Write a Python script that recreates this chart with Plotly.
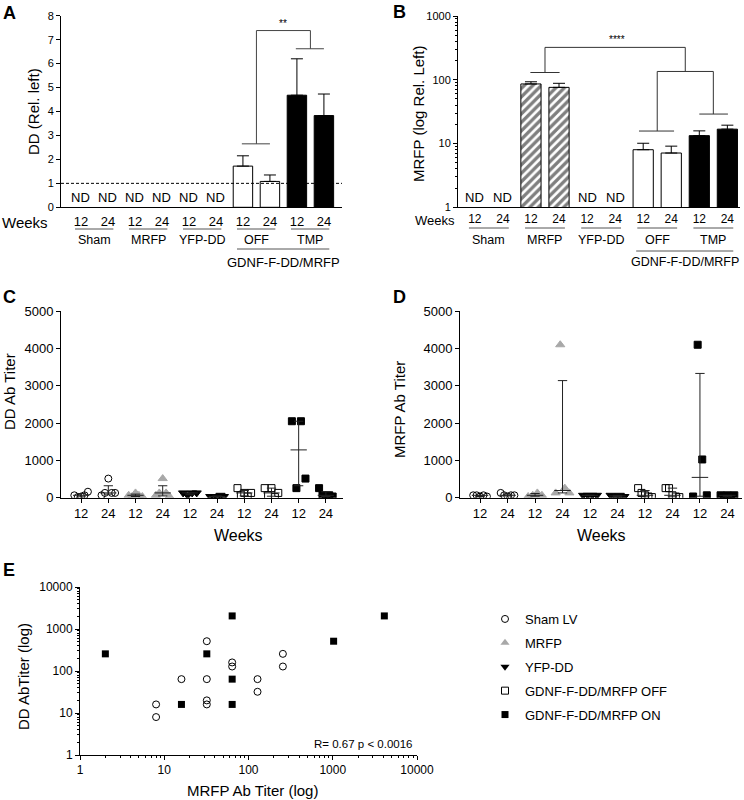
import plotly.graph_objects as go
import numpy as np

W, H = 744, 800
FONT = "Liberation Sans, Arial, Helvetica, sans-serif"


def px(x):
    return x / W


def py(y):
    return 1 - y / H


# ---------------- data ----------------
weeks = ["12", "24"] * 5
group_names = ["Sham", "MRFP", "YFP-DD", "OFF", "TMP"]
positions = list(range(10))

# Panel A: DD (Rel. left), mean and SEM (ND = not detected)
dd_rel_mean = [None, None, None, None, None, None, 1.72, 1.08, 4.68, 3.83]
dd_rel_sem = [None, None, None, None, None, None, 0.43, 0.27, 1.52, 0.90]
dd_rel_nd = [True, True, True, True, True, True, False, False, False, False]

# Panel B: MRFP (log Rel. Left), mean and SEM
mrfp_rel_mean = [None, None, 86, 76, None, None, 8.0, 7.1, 13.3, 16.8]
mrfp_rel_sem = [None, None, 7, 12, None, None, 2.1, 2.0, 2.5, 2.6]
mrfp_rel_nd = [True, True, False, False, True, True, False, False, False, False]

# significance bracket heights
sigA_off, sigA_tmp, sigA_top = 2.65, 6.62, 7.38
sigB_mrfp, sigB_top, sigB_mid, sigB_off, sigB_tmp = 130, 322, 135, 15.7, 29

# Panel C: DD Ab titer per group
dd_sham12 = [64, 16, 32, 64, 160]
dd_sham24 = [64, 128, 512, 128, 128]
dd_mrfp12 = [64, 32, 128, 64, 32]
dd_mrfp24 = [64, 128, 512, 128, 32]
dd_yfp12 = [128, 64, 128, 128]
dd_yfp24 = [32, 32, 16, 64, 32]
dd_off12 = [256, 64, 128, 32, 128]
dd_off24 = [256, 64, 256, 16, 128]
dd_tmp12 = [2048, 256, 2048, 512]
dd_tmp24 = [256, 64, 32, 64, 32]

# Panel D: MRFP Ab titer per group
mr_sham12 = [64, 64, 32, 64, 32]
mr_sham24 = [128, 64, 32, 64, 64]
mr_mrfp12 = [32, 64, 128, 64]
mr_mrfp24 = [128, 4096, 256, 128]
mr_yfp12 = [64, 64, 64, 64]
mr_yfp24 = [64, 32, 64, 32]
mr_off12 = [256, 128, 64, 32, 16]
mr_off24 = [256, 256, 64, 32, 16]
mr_tmp12 = [32, 4096, 1024, 64]
mr_tmp24 = [64, 32, 64, 16, 64]

# Panel E: correlation (MRFP titer vs DD titer)
e_sham_mrfp = [8, 8, 16, 32, 32, 32, 32, 64, 64, 128, 128, 256, 256]
e_sham_dd = [16, 8, 64, 512, 64, 20, 16, 160, 128, 64, 32, 256, 128]
e_on_mrfp = [2, 16, 32, 64, 64, 64, 1024, 4096]
e_on_dd = [256, 16, 256, 2048, 64, 16, 512, 2048]

dd_groups = [dd_sham12, dd_sham24, dd_mrfp12, dd_mrfp24, dd_yfp12, dd_yfp24,
             dd_off12, dd_off24, dd_tmp12, dd_tmp24]
mr_groups = [mr_sham12, mr_sham24, mr_mrfp12, mr_mrfp24, mr_yfp12, mr_yfp24,
             mr_off12, mr_off24, mr_tmp12, mr_tmp24]

GRAY = "#a8a8a8"
styles = [
    dict(symbol="circle-open", color="black", size=7),
    dict(symbol="circle-open", color="black", size=7),
    dict(symbol="triangle-up", color=GRAY, size=8),
    dict(symbol="triangle-up", color=GRAY, size=8),
    dict(symbol="triangle-down", color="black", size=8),
    dict(symbol="triangle-down", color="black", size=8),
    dict(symbol="square-open", color="black", size=7),
    dict(symbol="square-open", color="black", size=7),
    dict(symbol="square", color="black", size=7),
    dict(symbol="square", color="black", size=7),
]


def prism_q(vals, p):
    s = sorted(vals)
    n = len(s)
    pos = (n + 1) * p
    if pos <= 1:
        return s[0]
    if pos >= n:
        return s[-1]
    lo = int(np.floor(pos))
    fr = pos - lo
    return s[lo - 1] + fr * (s[lo] - s[lo - 1])


fig = go.Figure()

# ---------------- Panel A ----------------
fig.add_trace(go.Bar(
    x=positions[6:8], y=dd_rel_mean[6:8], width=0.72,
    marker=dict(color="white", line=dict(color="black", width=1)),
    error_y=dict(type="data", array=dd_rel_sem[6:8], arrayminus=[0, 0], symmetric=False,
                 color="black", thickness=1, width=6),
    xaxis="x", yaxis="y", showlegend=False, hoverinfo="skip"))
fig.add_trace(go.Bar(
    x=positions[8:10], y=dd_rel_mean[8:10], width=0.72,
    marker=dict(color="black", line=dict(color="black", width=1)),
    error_y=dict(type="data", array=dd_rel_sem[8:10], arrayminus=[0, 0], symmetric=False,
                 color="black", thickness=1, width=6),
    xaxis="x", yaxis="y", showlegend=False, hoverinfo="skip"))
bx = [5.96, 7.0, None, 6.5, 6.5, 8.5, 8.5, None, 7.96, 9.0]
by = [sigA_off, sigA_off, None, sigA_off, sigA_top, sigA_top, sigA_tmp, None, sigA_tmp, sigA_tmp]
fig.add_trace(go.Scatter(x=bx, y=by, mode="lines", line=dict(color="#444", width=1),
                         xaxis="x", yaxis="y", showlegend=False, hoverinfo="skip"))

# ---------------- Panel B ----------------
fig.add_trace(go.Bar(
    x=positions[2:4], y=mrfp_rel_mean[2:4], width=0.72,
    marker=dict(color="white", line=dict(color="black", width=1),
                pattern=dict(shape="/", fgcolor="black", bgcolor="white", size=6, solidity=0.55)),
    error_y=dict(type="data", array=mrfp_rel_sem[2:4], arrayminus=[0, 0], symmetric=False,
                 color="black", thickness=1, width=6),
    xaxis="x2", yaxis="y2", showlegend=False, hoverinfo="skip"))
fig.add_trace(go.Bar(
    x=positions[6:8], y=mrfp_rel_mean[6:8], width=0.72,
    marker=dict(color="white", line=dict(color="black", width=1)),
    error_y=dict(type="data", array=mrfp_rel_sem[6:8], arrayminus=[0, 0], symmetric=False,
                 color="black", thickness=1, width=6),
    xaxis="x2", yaxis="y2", showlegend=False, hoverinfo="skip"))
fig.add_trace(go.Bar(
    x=positions[8:10], y=mrfp_rel_mean[8:10], width=0.72,
    marker=dict(color="black", line=dict(color="black", width=1)),
    error_y=dict(type="data", array=mrfp_rel_sem[8:10], arrayminus=[0, 0], symmetric=False,
                 color="black", thickness=1, width=6),
    xaxis="x2", yaxis="y2", showlegend=False, hoverinfo="skip"))
bx2 = [1.98, 3.02, None, 2.5, 2.5, 7.5, 7.5, None, 6.5, 8.5, None,
       6.5, 6.5, None, 5.85, 7.1, None, 8.5, 8.5, None, 8.0, 9.02]
by2 = [sigB_mrfp, sigB_mrfp, None, sigB_mrfp, sigB_top, sigB_top, sigB_mid, None, sigB_mid, sigB_mid, None,
       sigB_mid, sigB_off, None, sigB_off, sigB_off, None, sigB_mid, sigB_tmp, None, sigB_tmp, sigB_tmp]
fig.add_trace(go.Scatter(x=bx2, y=by2, mode="lines", line=dict(color="#333", width=1),
                         xaxis="x2", yaxis="y2", showlegend=False, hoverinfo="skip"))


# ---------------- Panels C and D ----------------
def add_scatter_panel(groups, xa, ya):
    for i, vals in enumerate(groups):
        n = len(vals)
        offs = [(-0.25 + 0.5 * k / (n - 1)) if n > 1 else 0 for k in range(n)]
        st = styles[i]
        fig.add_trace(go.Scatter(
            x=[i + o for o in offs], y=vals, mode="markers",
            marker=dict(symbol=st["symbol"], color=st["color"], size=st["size"],
                        line=dict(color=st["color"], width=1)),
            xaxis=xa, yaxis=ya, showlegend=False, hoverinfo="skip"))
    lx, ly = [], []
    for i, vals in enumerate(groups):
        med = prism_q(vals, 0.5)
        q1 = prism_q(vals, 0.25)
        q3 = prism_q(vals, 0.75)
        lx += [i - 0.3, i + 0.3, None, i, i, None, i - 0.17, i + 0.17, None, i - 0.17, i + 0.17, None]
        ly += [med, med, None, q1, q3, None, q1, q1, None, q3, q3, None]
    fig.add_trace(go.Scatter(x=lx, y=ly, mode="lines", line=dict(color="#222", width=1),
                             xaxis=xa, yaxis=ya, showlegend=False, hoverinfo="skip"))


add_scatter_panel(dd_groups, "x3", "y3")
add_scatter_panel(mr_groups, "x4", "y4")

# ---------------- Panel E ----------------
fig.add_trace(go.Scatter(x=e_sham_mrfp, y=e_sham_dd, mode="markers", name="Sham LV",
                         marker=dict(symbol="circle-open", color="black", size=7, line=dict(width=1)),
                         xaxis="x5", yaxis="y5", legendgroup="a", hoverinfo="skip"))
fig.add_trace(go.Scatter(x=[None], y=[None], mode="markers", name="MRFP",
                         marker=dict(symbol="triangle-up", color=GRAY, size=8),
                         xaxis="x5", yaxis="y5", legendgroup="b", hoverinfo="skip"))
fig.add_trace(go.Scatter(x=[None], y=[None], mode="markers", name="YFP-DD",
                         marker=dict(symbol="triangle-down", color="black", size=8),
                         xaxis="x5", yaxis="y5", legendgroup="c", hoverinfo="skip"))
fig.add_trace(go.Scatter(x=[None], y=[None], mode="markers", name="GDNF-F-DD/MRFP OFF",
                         marker=dict(symbol="square-open", color="black", size=7, line=dict(width=1)),
                         xaxis="x5", yaxis="y5", legendgroup="d", hoverinfo="skip"))
fig.add_trace(go.Scatter(x=e_on_mrfp, y=e_on_dd, mode="markers", name="GDNF-F-DD/MRFP ON",
                         marker=dict(symbol="square", color="black", size=7),
                         xaxis="x5", yaxis="y5", legendgroup="e", hoverinfo="skip"))

# ---------------- axes ----------------
axline = dict(showline=True, linecolor="black", linewidth=1, showgrid=False, zeroline=False,
              automargin=False, tickwidth=1)
cat_x = dict(tickmode="array", tickvals=positions, ticktext=weeks)

layout = dict(
    width=W, height=H, margin=dict(l=0, r=0, t=0, b=0), autosize=False,
    plot_bgcolor="white", paper_bgcolor="white",
    font=dict(family=FONT, color="black", size=12),
    barmode="overlay",
    showlegend=True,
    legend=dict(x=px(485), y=py(604), xanchor="left", yanchor="top",
                font=dict(size=13, family=FONT), tracegroupgap=4,
                bgcolor="rgba(0,0,0,0)", itemclick=False),
    xaxis=dict(domain=[px(61), px(342)], anchor="y", range=[-0.74, 9.67], **cat_x,
               ticks="outside", ticklen=2, tickcolor="rgba(0,0,0,0)",
               tickfont=dict(size=13), **axline),
    yaxis=dict(domain=[py(207.3), py(15.7)], anchor="x", range=[0, 8], dtick=1,
               ticks="outside", ticklen=4, tickcolor="black", tickfont=dict(size=11), **axline),
    xaxis2=dict(domain=[px(458), px(740)], anchor="y2", range=[-0.6, 9.45], **cat_x,
                ticks="", tickfont=dict(size=12), **axline),
    yaxis2=dict(domain=[py(207.3), py(16)], anchor="x2", type="log", range=[0, 3], dtick=1,
                ticks="outside", ticklen=4, tickcolor="black", tickfont=dict(size=11), tickformat="d",
                minor=dict(ticks="outside", ticklen=2, tickcolor="black"), **axline),
    xaxis3=dict(domain=[px(61), px(343)], anchor="y3", range=[-0.74, 9.63], **cat_x,
                ticks="outside", ticklen=4, tickcolor="black", tickfont=dict(size=13), **axline),
    yaxis3=dict(domain=[py(497.7), py(311)], anchor="x3", range=[0, 5000], dtick=1000,
                ticks="outside", ticklen=4, tickcolor="black", tickfont=dict(size=13), tickformat="d", **axline),
    xaxis4=dict(domain=[px(460), px(742)], anchor="y4", range=[-0.73, 9.53], **cat_x,
                ticks="outside", ticklen=4, tickcolor="black", tickfont=dict(size=13), **axline),
    yaxis4=dict(domain=[py(497.7), py(311)], anchor="x4", range=[0, 5000], dtick=1000,
                ticks="outside", ticklen=4, tickcolor="black", tickfont=dict(size=13), tickformat="d", **axline),
    xaxis5=dict(domain=[px(80), px(417)], anchor="y5", type="log", range=[0, 4], dtick=1,
                ticks="outside", ticklen=4, tickcolor="black", tickfont=dict(size=12), tickformat="d",
                minor=dict(ticks="outside", ticklen=2, tickcolor="black"), **axline),
    yaxis5=dict(domain=[py(755), py(587)], anchor="x5", type="log", range=[0, 4], dtick=1,
                ticks="outside", ticklen=4, tickcolor="black", tickfont=dict(size=12), tickformat="d",
                minor=dict(ticks="outside", ticklen=2, tickcolor="black"), **axline),
)
fig.update_layout(**layout)

ann = []
shapes = []


def text(x, y, s, size, xref="paper", yref="paper", angle=0, bold=False, xanchor="center",
         yanchor="middle"):
    ann.append(dict(x=x, y=y, xref=xref, yref=yref, text=("<b>%s</b>" % s) if bold else s,
                    showarrow=False, textangle=angle, font=dict(size=size, family=FONT, color="black"),
                    xanchor=xanchor, yanchor=yanchor))


# panel letters
text(px(9), py(13), "A", 18, bold=True)
text(px(399), py(12), "B", 18, bold=True)
text(px(9), py(297), "C", 18, bold=True)
text(px(399), py(297), "D", 18, bold=True)
text(px(9), py(570), "E", 18, bold=True)

# Panel A text
text(px(33), py(112), "DD (Rel. left)", 15, angle=-90)
text(px(25), py(222), "Weeks", 15)
for i in positions:
    if dd_rel_nd[i]:
        ann.append(dict(x=i, y=0, xref="x", yref="y", text="ND", showarrow=False,
                        font=dict(size=13, family=FONT, color="black"), yanchor="bottom"))
for g in range(5):
    text(2 * g + 0.5, py(240), group_names[g], 12.5, xref="x")
    shapes.append(dict(type="line", xref="x", yref="paper", x0=2 * g - 0.22, x1=2 * g + 1.2,
                       y0=py(229), y1=py(229), line=dict(color="#555", width=1)))
shapes.append(dict(type="line", xref="x", yref="paper", x0=6 - 0.22, x1=9.2,
                   y0=py(249), y1=py(249), line=dict(color="#555", width=1)))
text(7.5, py(262), "GDNF-F-DD/MRFP", 13, xref="x")
ann.append(dict(x=7.5, y=sigA_top, xref="x", yref="y", text="**", showarrow=False,
                font=dict(size=10, family=FONT, color="black"), yanchor="bottom"))
shapes.append(dict(type="line", xref="x domain", yref="y", x0=0, x1=1, y0=1, y1=1,
                   line=dict(color="black", width=1, dash="3px,2px")))

# Panel B text
text(px(419), py(114), "MRFP (log Rel. Left)", 15, angle=-90)
text(px(435), py(220), "Weeks", 13)
for i in positions:
    if mrfp_rel_nd[i]:
        ann.append(dict(x=i, y=0, xref="x2", yref="y2", text="ND", showarrow=False,
                        font=dict(size=13, family=FONT, color="black"), yanchor="bottom"))
for g in range(5):
    text(2 * g + 0.5, py(240), group_names[g], 12.5, xref="x2")
    shapes.append(dict(type="line", xref="x2", yref="paper", x0=2 * g - 0.21, x1=2 * g + 1.21,
                       y0=py(228), y1=py(228), line=dict(color="#555", width=1)))
shapes.append(dict(type="line", xref="x2", yref="paper", x0=6 - 0.25, x1=9.21,
                   y0=py(251), y1=py(251), line=dict(color="#555", width=1)))
text(7.5, py(262), "GDNF-F-DD/MRFP", 12.5, xref="x2")
ann.append(dict(x=5.05, y=np.log10(sigB_top), xref="x2", yref="y2", text="****", showarrow=False,
                font=dict(size=10, family=FONT, color="black"), yanchor="bottom"))

# Panel C / D text
text(px(9), py(392), "DD Ab Titer", 15, angle=-90)
text(px(238), py(535), "Weeks", 16)
text(px(400), py(410), "MRFP Ab Titer", 15, angle=-90)
text(px(601), py(535), "Weeks", 16)

# Panel E text
text(px(23), py(677), "DD AbTiter (log)", 15, angle=-90)
text(px(253), py(790), "MRFP Ab Titer (log)", 15)
text(px(414), py(744), "R= 0.67 p &lt; 0.0016", 11.5, xanchor="right")

fig.update_layout(annotations=ann, shapes=shapes)
fig.write_html("out.html", config={"displayModeBar": False},
               post_script="document.body.style.margin='0';document.body.style.overflow='hidden';")
